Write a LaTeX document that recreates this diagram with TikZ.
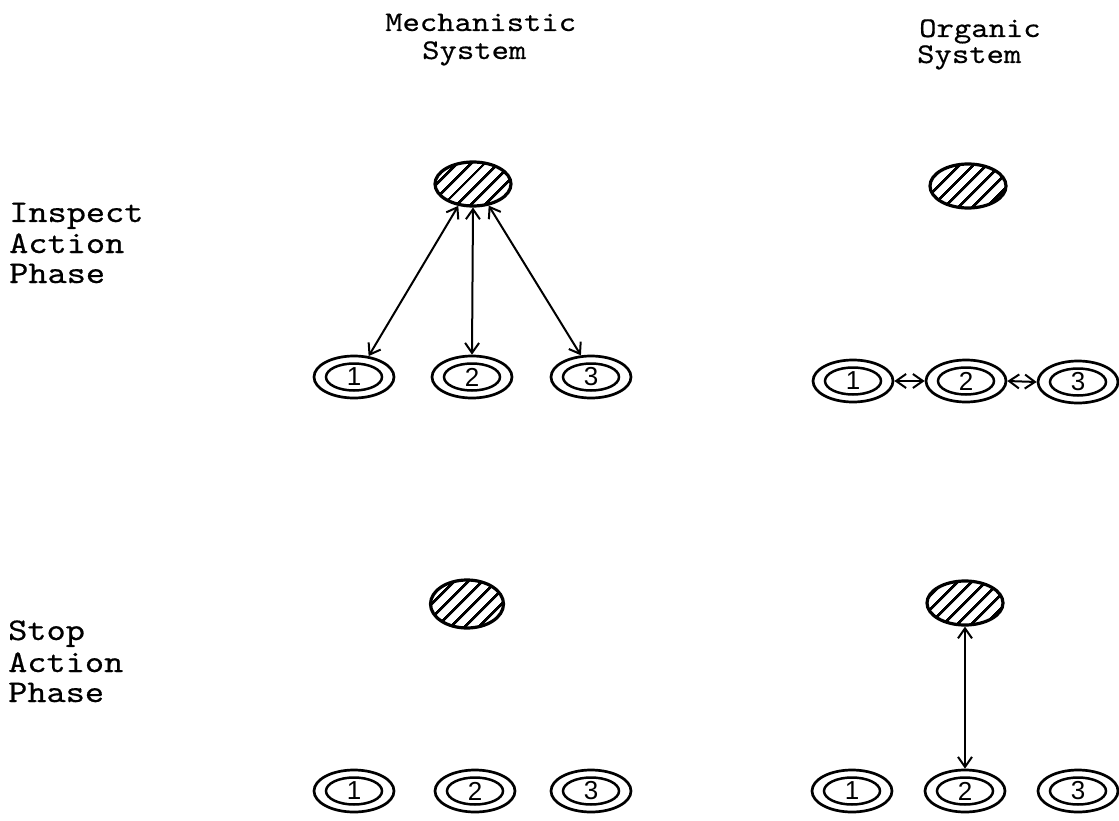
\documentclass[tikz,border=0pt]{standalone}
\usepackage{fontspec}
\usetikzlibrary{shapes.geometric,arrows.meta,patterns.meta}
\newfontfamily\typefont[FakeStretch=1.16,FakeBold=0.5]{lmmono10-regular.otf}
\newfontfamily\digitfont{Liberation Sans}

\begin{document}
\begin{tikzpicture}[x=1pt,y=-1pt,
  lbl/.style={anchor=base west,inner sep=0pt,font=\typefont\fontsize{31.5}{31}\selectfont},
  head/.style={anchor=base west,inner sep=0pt,font=\typefont\fontsize{28.5}{28}\selectfont},
  hub/.style={ellipse,draw,line width=3.2pt,minimum width=76pt,minimum height=44pt,inner sep=0pt,
    pattern={Lines[angle=45,distance=10.5pt,line width=3pt]}},
  outer/.style={ellipse,draw,line width=2.7pt,minimum width=80pt,minimum height=42pt,inner sep=0pt},
  inner/.style={ellipse,draw,line width=2.5pt,minimum width=56pt,minimum height=27pt,inner sep=0pt,
    font=\digitfont\fontsize{26}{26}\selectfont},
  link/.style={line width=2pt,
    {Straight Barb[length=10pt,width=14pt,line width=2pt]}-{Straight Barb[length=10pt,width=14pt,line width=2pt]}}
]
\useasboundingbox (0,0) rectangle (1119,821);

% column headings
\node[head] (hm1) at (385,31) {Mechanistic};
\node[head] (hm2) at (422,59) {System};
\node[head] (ho1) at (919,37) {Organic};
\node[head] (ho2) at (917,63) {System};

% row headings
\node[lbl] (ri1) at (9,222) {Inspect};
\node[lbl] (ri2) at (9,253) {Action};
\node[lbl] (ri3) at (9,283) {Phase};
\node[lbl] (rs1) at (8,640) {Stop};
\node[lbl] (rs2) at (8,672) {Action};
\node[lbl] (rs3) at (8,702) {Phase};

% hatched central units
\node[hub] (hubA) at (473,184) {};
\node[hub] (hubB) at (968,186) {};
\node[hub,minimum width=73pt,minimum height=48pt] (hubC) at (467,604) {};
\node[hub] (hubD) at (965,603) {};

% mechanistic system, inspect action phase
\node[outer] (m1) at (354,377) {};
\node[inner] (m1i) at (m1) {1};
\node[outer] (m2) at (472,377) {};
\node[inner] (m2i) at (m2) {2};
\node[outer] (m3) at (591,377) {};
\node[inner] (m3i) at (m3) {3};

% organic system, inspect action phase
\node[outer] (o1) at (853,381) {};
\node[inner] (o1i) at (o1) {1};
\node[outer] (o2) at (966,381) {};
\node[inner] (o2i) at (o2) {2};
\node[outer] (o3) at (1078,382) {};
\node[inner] (o3i) at (o3) {3};

% mechanistic system, stop action phase
\node[outer] (s1) at (354,791) {};
\node[inner] (s1i) at (s1) {1};
\node[outer] (s2) at (475,791) {};
\node[inner] (s2i) at (s2) {2};
\node[outer] (s3) at (591,791) {};
\node[inner] (s3i) at (s3) {3};

% organic system, stop action phase
\node[outer] (t1) at (852,791) {};
\node[inner] (t1i) at (t1) {1};
\node[outer] (t2) at (965,791) {};
\node[inner] (t2i) at (t2) {2};
\node[outer] (t3) at (1078,791) {};
\node[inner] (t3i) at (t3) {3};

% connectors
\draw[link] (hubA.-124) -- (m1.55);
\draw[link] (hubA.south) -- (m2.north);
\draw[link] (hubA.-54) -- (m3.115);
\draw[link] (o1.east) -- (o2.west);
\draw[link] (o2.east) -- (o3.west);
\draw[link] (hubD.south) -- (t2.north);
\end{tikzpicture}
\end{document}
